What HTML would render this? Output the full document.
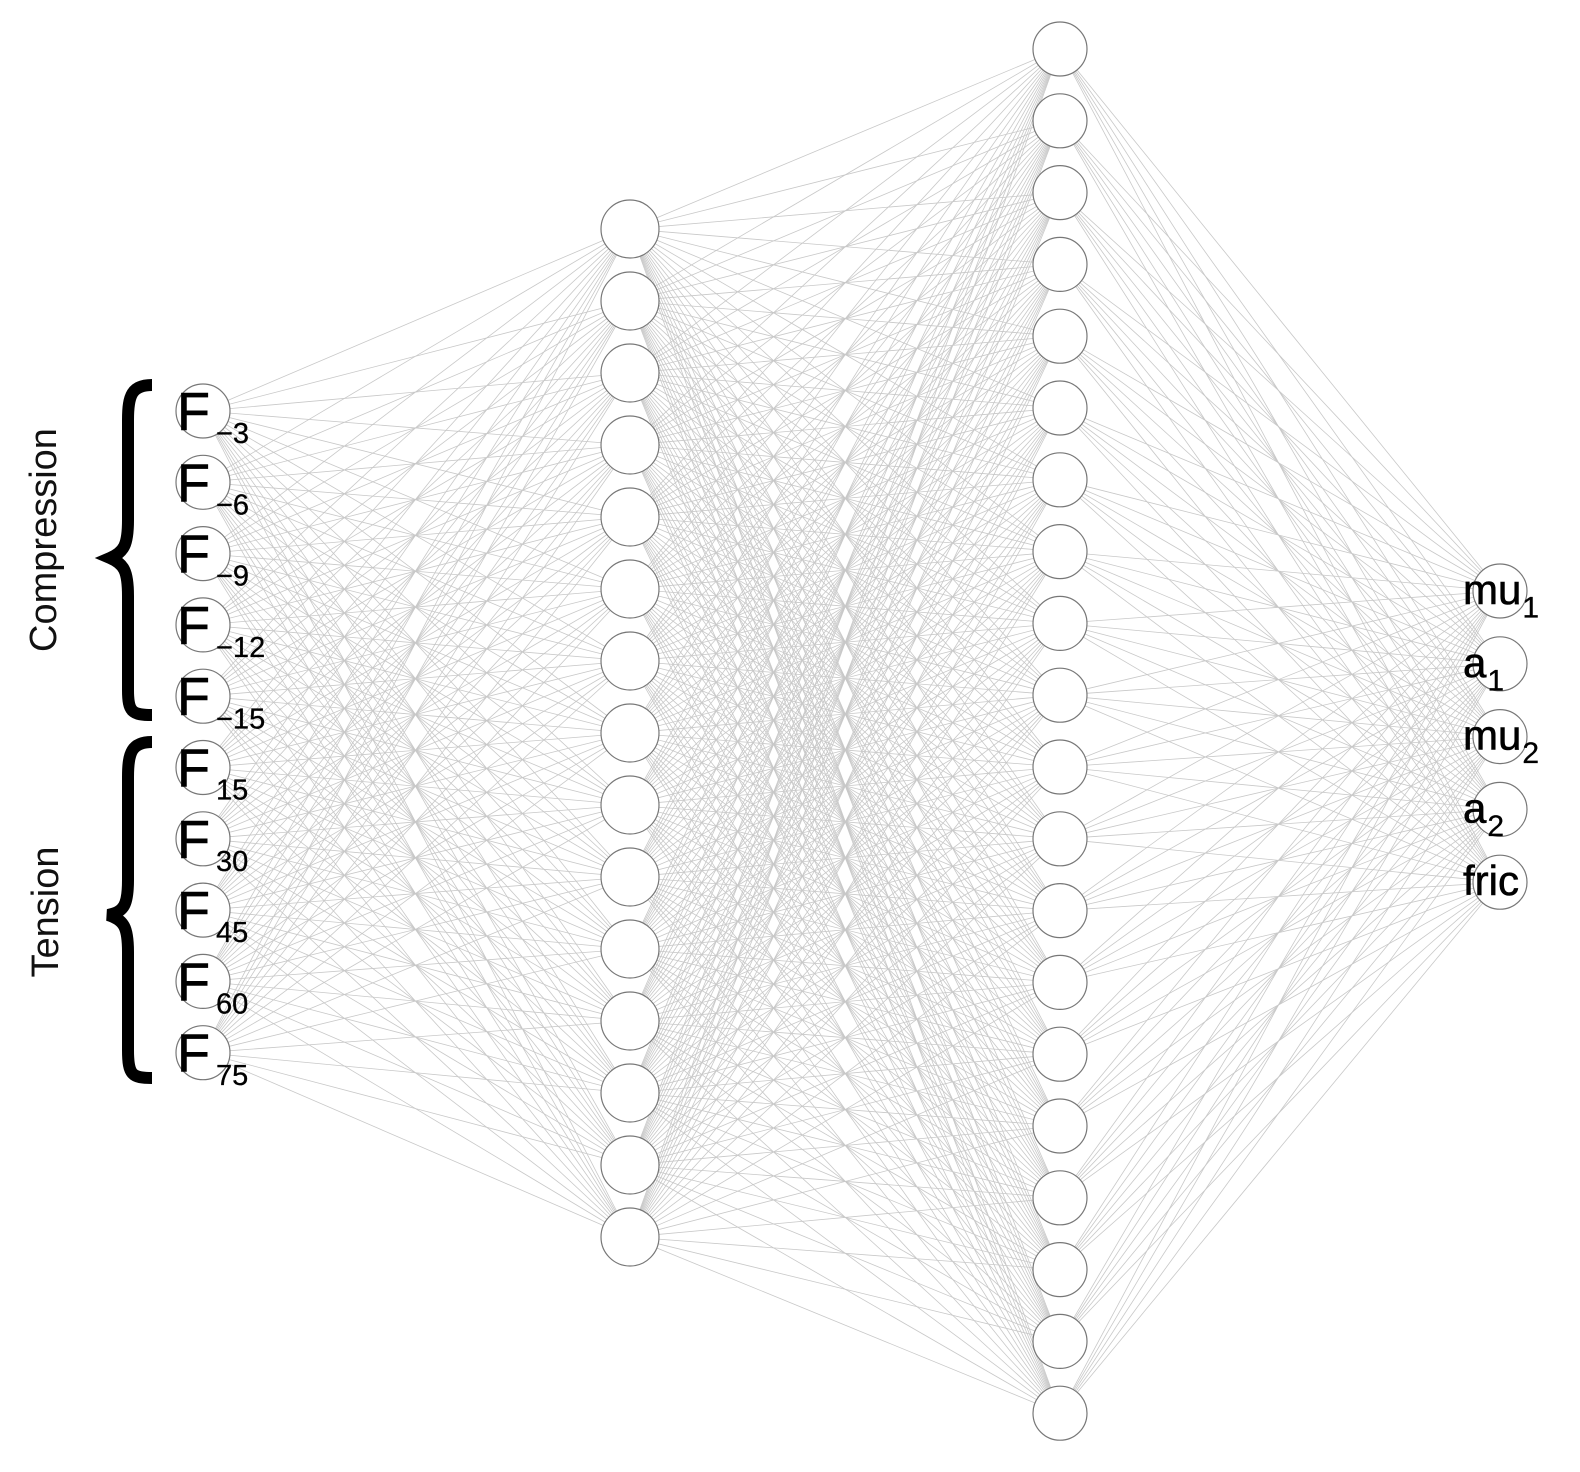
<!DOCTYPE html>
<html><head><meta charset="utf-8"><style>
html,body{margin:0;padding:0;background:#fff;}
svg{display:block;font-family:"Liberation Sans","DejaVu Sans",sans-serif;}
</style></head><body>
<svg id="s" width="1580" height="1472" viewBox="0 0 1580 1472" xmlns="http://www.w3.org/2000/svg">
<g id="edges" stroke="#c8c8c8" stroke-width="0.8" fill="none"></g>
<g id="nodes" fill="#fff" stroke="#777" stroke-width="1.2"></g>
<path d="M152,385 C132,385 128,395 128,420 L128,520 C128,545 124,552 110,558 C124,564 128,571 128,596 L128,690 C128,712 132,715 152,715" stroke="#000" stroke-width="12" fill="none"/>
<path d="M152,742 C132,742 128,752 128,777 L128,880 C128,905 124,912 108,915 C124,920 128,927 128,952 L128,1050 C128,1075 132,1078 152,1078" stroke="#000" stroke-width="12" fill="none"/>
<text x="0" y="0" font-size="38" transform="translate(56,540) rotate(-90)" text-anchor="middle" fill="#111">Compression</text>
<text x="0" y="0" font-size="38" transform="translate(58,912) rotate(-90)" text-anchor="middle" fill="#111">Tension</text>
<g id="labels" fill="#000" stroke="#000" stroke-width="0.6"></g>
</svg>
<script>
var NS="http://www.w3.org/2000/svg";
function L(x,n,y0,step){var a=[];for(var i=0;i<n;i++)a.push([x,y0+i*step]);return a;}
var inp=L(203,10,411,71.3), h1=L(630,15,229,72), h2=L(1060,20,49,71.8), out=L(1500,5,591,72.8);
var e=document.getElementById('edges'), nd=document.getElementById('nodes'), lb=document.getElementById('labels');
function conn(A,B){A.forEach(function(a){B.forEach(function(b){var l=document.createElementNS(NS,'line');l.setAttribute('x1',a[0]);l.setAttribute('y1',a[1]);l.setAttribute('x2',b[0]);l.setAttribute('y2',b[1]);e.appendChild(l);});});}
conn(inp,h1);conn(h1,h2);conn(h2,out);
function circ(P,r){P.forEach(function(p){var c=document.createElementNS(NS,'circle');c.setAttribute('cx',p[0]);c.setAttribute('cy',p[1]);c.setAttribute('r',r);nd.appendChild(c);});}
circ(inp,27);circ(h1,29);circ(h2,27);circ(out,27);
function txt(x,y,main,sub,fs,ss,dx){var t=document.createElementNS(NS,'text');t.setAttribute('x',x);t.setAttribute('y',y);t.setAttribute('font-size',fs);t.textContent=main;var s=document.createElementNS(NS,'tspan');s.setAttribute('font-size',ss);s.setAttribute('dy',ss*0.45);s.setAttribute('dx',dx);s.setAttribute('stroke-width','0.3');s.textContent=sub;t.appendChild(s);lb.appendChild(t);}
var subs=["\u22123","\u22126","\u22129","\u221212","\u221215","15","30","45","60","75"];
inp.forEach(function(p,i){txt(177,p[1]+19,"F",subs[i],54,29,6);});
var om=[["mu","1"],["a","1"],["mu","2"],["a","2"],["fric",""]];
out.forEach(function(p,i){txt(1463,p[1]+13,om[i][0],om[i][1],42,30,1);});
</script>
</body></html>
